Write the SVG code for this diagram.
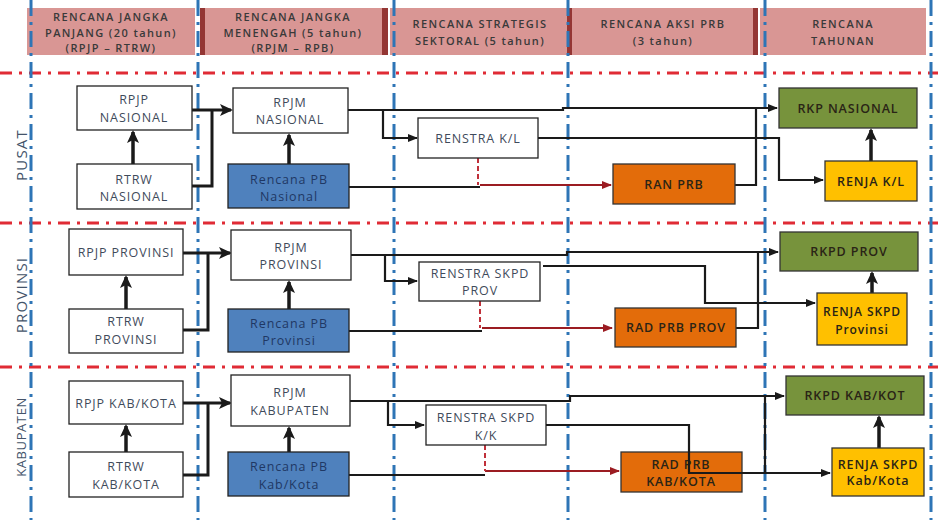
<svg xmlns="http://www.w3.org/2000/svg" width="938" height="520" viewBox="0 0 938 520">
<defs>
<style>
.hdr{fill:#D99694}
.strip{fill:#943634}
.grid{stroke:#2E75B6;stroke-width:3;stroke-dasharray:16 6 3 6;fill:none}
.band{stroke:#E02B35;stroke-width:3;stroke-dasharray:12 7 3 7;fill:none}
.box{fill:#fff;stroke:#222;stroke-width:1.3}
.pb{fill:#4F81BD;stroke:#222;stroke-width:1.3}
.ora{fill:#E36C0A;stroke:#333;stroke-width:1.3}
.grn{fill:#77933C;stroke:#333;stroke-width:1.3}
.yel{fill:#FFC000;stroke:#333;stroke-width:1.3}
text{font-family:"Open Sans","Liberation Sans",sans-serif;font-size:12.5px;letter-spacing:0.9px;text-anchor:middle}
.t{fill:#3F4B5B}
.tp{fill:#1F3864}
.td{fill:#2A2416;font-weight:600}
.ht{font-weight:600;fill:#3A3A3A;font-size:11px;letter-spacing:1.4px}
.side{fill:#44546A;font-size:15px;letter-spacing:1.2px}
.c{stroke:#1a1a1a;stroke-width:2.2;fill:none}
.cu{stroke:#1a1a1a;stroke-width:3.5;fill:none}
.cr{stroke:#9B1C22;stroke-width:2.2;fill:none}
.cd{stroke:#C0303A;stroke-width:2;stroke-dasharray:5 3;fill:none}
</style>
<marker id="ah" markerUnits="userSpaceOnUse" markerWidth="10" markerHeight="8" refX="9" refY="4" orient="auto"><path d="M0,0 L10,4 L0,8 z" fill="#1a1a1a"/></marker>
<marker id="ahb" markerUnits="userSpaceOnUse" markerWidth="13" markerHeight="12" refX="11" refY="6" orient="auto"><path d="M0,0 L13,6 L0,12 L3,6 z" fill="#1a1a1a"/></marker>
<marker id="ahr" markerUnits="userSpaceOnUse" markerWidth="10" markerHeight="8" refX="9" refY="4" orient="auto"><path d="M0,0 L10,4 L0,8 z" fill="#9B1C22"/></marker>
</defs>
<rect width="938" height="520" fill="#fff"/>

<g id="headers">
<rect class="hdr" x="27" y="8" width="168" height="47"/>
<rect class="hdr" x="200" y="8" width="188" height="47"/>
<rect class="strip" x="200" y="8" width="5" height="47"/>
<rect class="strip" x="382" y="8" width="6" height="47"/>
<rect class="hdr" x="390" y="8" width="182" height="47"/>
<rect class="strip" x="567" y="8" width="5" height="47"/>
<rect class="hdr" x="572" y="8" width="186" height="47"/>
<rect class="strip" x="753" y="8" width="5" height="47"/>
<rect class="hdr" x="760" y="8" width="166" height="47"/>
<text class="ht" x="111" y="21">RENCANA JANGKA</text>
<text class="ht" x="111" y="37">PANJANG (20 tahun)</text>
<text class="ht" x="111" y="52">(RPJP – RTRW)</text>
<text class="ht" x="293" y="21">RENCANA JANGKA</text>
<text class="ht" x="293" y="37">MENENGAH (5 tahun)</text>
<text class="ht" x="293" y="52">(RPJM – RPB)</text>
<text class="ht" x="480" y="28">RENCANA STRATEGIS</text>
<text class="ht" x="480" y="45">SEKTORAL (5 tahun)</text>
<text class="ht" x="663" y="28">RENCANA AKSI PRB</text>
<text class="ht" x="663" y="45">(3 tahun)</text>
<text class="ht" x="843" y="28">RENCANA</text>
<text class="ht" x="843" y="45">TAHUNAN</text>
</g>

<g id="gridlines">
<path class="band" d="M0,73 H938 M0,223 H938 M0,367 H938"/>
<path class="grid" d="M31,0 V520 M198,0 V520 M394,0 V520 M568,0 V520 M765,0 V520 M931,0 V520"/>
</g>

<g id="side-labels">
<text class="side" transform="translate(27,155) rotate(-90)">PUSAT</text>
<text class="side" transform="translate(27,295) rotate(-90)">PROVINSI</text>
<text class="side" transform="translate(26,437) rotate(-90)" style="font-size:13px;letter-spacing:0.6px">KABUPATEN</text>
</g>

<g id="connectors">
<!-- Pusat -->
<path class="cu" d="M133,164 V132" marker-end="url(#ahb)"/>
<path class="cu" d="M289,164 V135" marker-end="url(#ahb)"/>
<path class="cu" d="M871,161 V130" marker-end="url(#ahb)"/>
<path class="c" d="M192,110 H231" marker-end="url(#ahb)" style="stroke-width:3"/>
<path class="c" d="M192,186 H212 V110" style="stroke-width:3"/>
<path class="c" d="M348,110 H563 V108 H777" marker-end="url(#ah)"/>
<path class="c" d="M383,110 V138 H417" marker-end="url(#ah)"/>
<path class="c" d="M538,138 H779 V180 H823" marker-end="url(#ah)"/>
<path class="c" d="M349,187 H480"/>
<path class="cr" d="M480,185 H611" marker-end="url(#ahr)"/>
<path class="cd" d="M478,158 V185"/>
<path class="c" d="M735,185 H756 V108"/>
<!-- Provinsi -->
<path class="cu" d="M126,309 V277" marker-end="url(#ahb)"/>
<path class="cu" d="M289,309 V282" marker-end="url(#ahb)"/>
<path class="cu" d="M872,303 V273" marker-end="url(#ahb)"/>
<path class="c" d="M183,253 H230" marker-end="url(#ahb)" style="stroke-width:3"/>
<path class="c" d="M183,330 H208 V253" style="stroke-width:3"/>
<path class="c" d="M351,255 H567 V252 H778" marker-end="url(#ah)"/>
<path class="c" d="M385,255 V281 H417" marker-end="url(#ah)"/>
<path class="c" d="M543,266 H705 V303 H815" marker-end="url(#ah)"/>
<path class="c" d="M349,331 H482"/>
<path class="cr" d="M482,328 H612" marker-end="url(#ahr)"/>
<path class="cd" d="M480,301 V328"/>
<path class="c" d="M736,328 H758 V252"/>
<!-- Kabupaten -->
<path class="cu" d="M126,452 V426" marker-end="url(#ahb)"/>
<path class="cu" d="M289,452 V428" marker-end="url(#ahb)"/>
<path class="cu" d="M879,448 V417" marker-end="url(#ahb)"/>
<path class="c" d="M183,403 H230" marker-end="url(#ahb)" style="stroke-width:3"/>
<path class="c" d="M183,475 H208 V403" style="stroke-width:3"/>
<path class="c" d="M350,401 H570 V396 H784" marker-end="url(#ah)"/>
<path class="c" d="M388,401 V425 H424" marker-end="url(#ah)"/>
<path class="c" d="M349,475 H485"/>
<path class="cr" d="M485,471 H619" marker-end="url(#ahr)"/>
<path class="cd" d="M485,445 V471"/>
</g>

<g id="rpjp-nasional"><rect class="box" x="77" y="86" width="115" height="44"/><text class="t" x="134" y="104">RPJP</text><text class="t" x="134" y="122">NASIONAL</text></g>
<g id="rtrw-nasional"><rect class="box" x="77" y="164" width="115" height="45"/><text class="t" x="134" y="184">RTRW</text><text class="t" x="134" y="201">NASIONAL</text></g>
<g id="rpjm-nasional"><rect class="box" x="233" y="88" width="115" height="45"/><text class="t" x="290" y="107">RPJM</text><text class="t" x="290" y="124">NASIONAL</text></g>
<g id="rpb-nasional"><rect class="pb" x="228" y="164" width="121" height="44"/><text class="tp" x="289" y="184">Rencana PB</text><text class="tp" x="289" y="201">Nasional</text></g>
<g id="renstra-kl"><rect class="box" x="418" y="118" width="120" height="40"/><text class="t" x="478" y="143">RENSTRA K/L</text></g>
<g id="ran-prb"><rect class="ora" x="613" y="164" width="122" height="40"/><text class="td" x="674" y="189">RAN PRB</text></g>
<g id="rkp-nasional"><rect class="grn" x="779" y="88" width="138" height="40"/><text class="td" x="848" y="113">RKP NASIONAL</text></g>
<g id="renja-kl"><rect class="yel" x="825" y="161" width="92" height="40"/><text class="td" x="871" y="186">RENJA K/L</text></g>

<g id="rpjp-provinsi"><rect class="box" x="69" y="229" width="114" height="46"/><text class="t" x="126" y="257">RPJP PROVINSI</text></g>
<g id="rtrw-provinsi"><rect class="box" x="69" y="309" width="114" height="44"/><text class="t" x="126" y="326">RTRW</text><text class="t" x="126" y="344">PROVINSI</text></g>
<g id="rpjm-provinsi"><rect class="box" x="231" y="230" width="120" height="50"/><text class="t" x="291" y="252">RPJM</text><text class="t" x="291" y="269">PROVINSI</text></g>
<g id="rpb-provinsi"><rect class="pb" x="228" y="309" width="121" height="43"/><text class="tp" x="289" y="328">Rencana PB</text><text class="tp" x="289" y="345">Provinsi</text></g>
<g id="renstra-skpd-prov"><rect class="box" x="419" y="262" width="121" height="39"/><text class="t" x="480" y="278">RENSTRA SKPD</text><text class="t" x="480" y="295">PROV</text></g>
<g id="rad-prb-prov"><rect class="ora" x="615" y="308" width="121" height="39"/><text class="td" x="676" y="332">RAD PRB PROV</text></g>
<g id="rkpd-prov"><rect class="grn" x="780" y="232" width="138" height="39"/><text class="td" x="849" y="256">RKPD PROV</text></g>
<g id="renja-skpd-prov"><rect class="yel" x="817" y="293" width="90" height="52"/><text class="td" x="862" y="316" style="font-size:12px">RENJA SKPD</text><text class="td" x="862" y="334" style="font-size:12px">Provinsi</text></g>

<g id="rpjp-kabkota"><rect class="box" x="69" y="381" width="114" height="43"/><text class="t" x="126" y="408">RPJP KAB/KOTA</text></g>
<g id="rtrw-kabkota"><rect class="box" x="69" y="452" width="114" height="45"/><text class="t" x="126" y="471">RTRW</text><text class="t" x="126" y="489">KAB/KOTA</text></g>
<g id="rpjm-kabupaten"><rect class="box" x="231" y="375" width="119" height="51"/><text class="t" x="290" y="397">RPJM</text><text class="t" x="290" y="415">KABUPATEN</text></g>
<g id="rpb-kabkota"><rect class="pb" x="228" y="452" width="121" height="44"/><text class="tp" x="289" y="471">Rencana PB</text><text class="tp" x="289" y="489">Kab/Kota</text></g>
<g id="renstra-skpd-kk"><rect class="box" x="426" y="405" width="120" height="40"/><text class="t" x="486" y="422">RENSTRA SKPD</text><text class="t" x="486" y="440">K/K</text></g>
<g id="rad-prb-kabkota"><rect class="ora" x="621" y="452" width="121" height="40"/><text class="td" x="681" y="469">RAD PRB</text><text class="td" x="681" y="486">KAB/KOTA</text></g>
<g id="rkpd-kabkota"><rect class="grn" x="786" y="376" width="138" height="39"/><text class="td" x="855" y="400">RKPD KAB/KOT</text></g>
<g id="renja-skpd-kabkota"><rect class="yel" x="832" y="448" width="92" height="48"/><text class="td" x="878" y="469">RENJA SKPD</text><text class="td" x="878" y="485">Kab/Kota</text></g>

<g id="connectors-over">
<path class="c" d="M546,425 H689 V473 H830" marker-end="url(#ah)"/>
<path class="c" d="M742,473 H765 V396"/>
</g>
</svg>
